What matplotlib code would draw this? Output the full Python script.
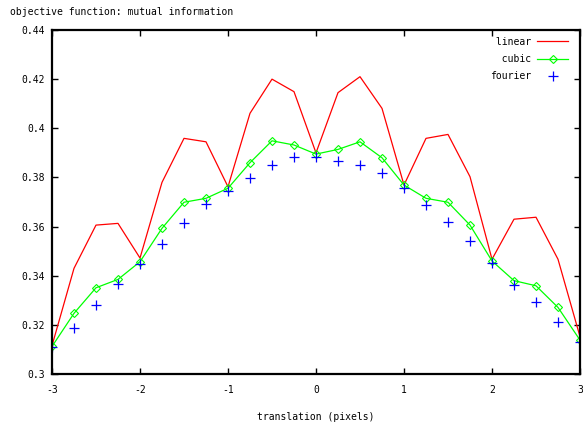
import matplotlib
matplotlib.use('AGG')
import matplotlib.pyplot as plt
import numpy as np

# translation steps (pixels)
shift = [-3, -2.75, -2.5, -2.25, -2, -1.75, -1.5, -1.25, -1, -0.75, -0.5, -0.25, 0,
         0.25, 0.5, 0.75, 1, 1.25, 1.5, 1.75, 2, 2.25, 2.5, 2.75, 3]

mi_linear = [0.3115, 0.343, 0.3606, 0.3613, 0.3472, 0.378, 0.3959, 0.3945, 0.3762,
             0.4061, 0.420, 0.4149, 0.390, 0.4145, 0.421, 0.4081, 0.3769, 0.3959,
             0.3975, 0.3803, 0.3467, 0.363, 0.3638, 0.3467, 0.3152]
mi_cubic = [0.3112, 0.3247, 0.3351, 0.3385, 0.3457, 0.3593, 0.3699, 0.3715, 0.3756,
            0.386, 0.3949, 0.3932, 0.3895, 0.3914, 0.3945, 0.388, 0.3769, 0.3715,
            0.3699, 0.3606, 0.346, 0.338, 0.3359, 0.3271, 0.3138]
mi_fourier = [0.3109, 0.3188, 0.3281, 0.3366, 0.3446, 0.3528, 0.3616, 0.3691, 0.3746,
              0.3796, 0.3851, 0.3884, 0.3884, 0.3868, 0.3851, 0.3817, 0.3758, 0.3688,
              0.362, 0.3542, 0.3453, 0.3362, 0.3294, 0.321, 0.3131]

yticks = [0.3, 0.32, 0.34, 0.36, 0.38, 0.4, 0.42, 0.44]
xticks = [-3, -2, -1, 0, 1, 2, 3]

plt.rcParams['font.family'] = 'DejaVu Sans Mono'
plt.rcParams['font.size'] = 7

fig = plt.figure(figsize=(5.83, 4.25), dpi=100)
ax = fig.add_axes([52 / 583, 1 - 374 / 425, 528 / 583, 344 / 425])

ax.plot(shift, mi_linear, color='#ff0000', lw=0.9, label=' linear')
ax.plot(shift, mi_cubic, color='#00ff00', lw=0.9, marker='D', ms=4.5,
        mfc='none', mec='#00ff00', mew=0.8, label='  cubic')
ax.plot(shift, mi_fourier, color='#0000ff', ls='none', marker='+', ms=7,
        mew=0.9, label='fourier')

ax.set_xlim(-3, 3)
ax.set_ylim(0.3, 0.44)
ax.set_xticks(xticks)
ax.set_xticklabels([str(v) for v in xticks])
ax.set_yticks(yticks)
ax.set_yticklabels(['%g' % v for v in yticks])
ax.tick_params(direction='in', length=4, width=1, top=True, right=True)
ax.tick_params(axis='x', pad=8)
ax.tick_params(axis='y', pad=5)

for s in ax.spines.values():
    s.set_linewidth(1.6)

ax.set_xlabel('translation (pixels)', labelpad=12)
fig.text(10 / 583, 1 - 12 / 425, 'objective function: mutual information',
         ha='left', va='center')

ax.legend(loc='upper right', bbox_to_anchor=(1 - 5 / 528, 1), frameon=False,
          markerfirst=False, handlelength=3.2, labelspacing=0.75,
          borderaxespad=0.3, handletextpad=0.6)

fig.savefig('out.png')
